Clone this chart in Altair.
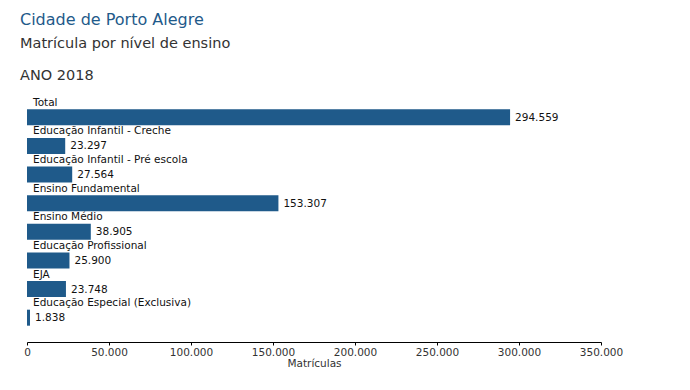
import altair as alt
import pandas as pd

categorias = [
    "Total",
    "Educação Infantil - Creche",
    "Educação Infantil - Pré escola",
    "Ensino Fundamental",
    "Ensino Médio",
    "Educação Profissional",
    "EJA",
    "Educação Especial (Exclusiva)",
]
matriculas = [294559, 23297, 27564, 153307, 38905, 25900, 23748, 1838]
eixo_ticks = [0, 50000, 100000, 150000, 200000, 250000, 300000, 350000]


def fmt(v):
    return f"{v:,}".replace(",", ".")


df = pd.DataFrame({
    "cat": categorias,
    "val": matriculas,
    "lbl": [fmt(v) for v in matriculas],
})

FONT = "DejaVu Sans"
COLOR = "#1f5a8a"

y = alt.Y("cat:N", sort=categorias, axis=None,
          scale=alt.Scale(paddingInner=0, paddingOuter=0))
x = alt.X("val:Q", title="Matrículas",
          scale=alt.Scale(domain=[0, 350000], nice=False),
          axis=alt.Axis(values=eixo_ticks, grid=False, offset=16,
                        labelFlush=False,
                        labelExpr="replace(format(datum.value, ','), /,/g, '.')",
                        domainColor="#000", tickColor="#000", tickSize=3,
                        labelColor="#333", labelFont=FONT, labelFontSize=10.5,
                        titleFont=FONT, titleFontSize=10.5, titleFontWeight="normal",
                        titleColor="#333", titlePadding=1, labelPadding=2))

bars = alt.Chart(df).mark_bar(size=16, color=COLOR, yOffset=6).encode(x=x, y=y)

vals = alt.Chart(df).mark_text(align="left", baseline="middle", dx=5, dy=6.5,
                               font=FONT, fontSize=10.5, color="#111").encode(
    x="val:Q", y=y, text="lbl:N")

cats = alt.Chart(df).mark_text(align="left", baseline="middle", dy=-8.5,
                               font=FONT, fontSize=10.5, color="#111").encode(
    x=alt.value(6), y=y, text="cat:N")

chart = alt.layer(bars, vals, cats).properties(
    width=574,
    height=229,
    title=alt.TitleParams(
        "Cidade de Porto Alegre",
        subtitle=["Matrícula por nível de ensino", "ANO 2018"],
        anchor="start", frame="group", dx=-7, offset=15,
        font=FONT, fontSize=16, fontWeight="normal", color=COLOR,
        subtitleFont=FONT, subtitleFontSize=14.5, subtitleColor="#333",
        subtitleLineHeight=32, subtitlePadding=9,
    ),
    autosize=alt.AutoSizeParams(type="none"),
    padding={"left": 19, "top": 89, "right": 80, "bottom": 50},
).configure_view(stroke=None)

chart.save("out.html", embed_options={"renderer": "svg", "actions": False})
